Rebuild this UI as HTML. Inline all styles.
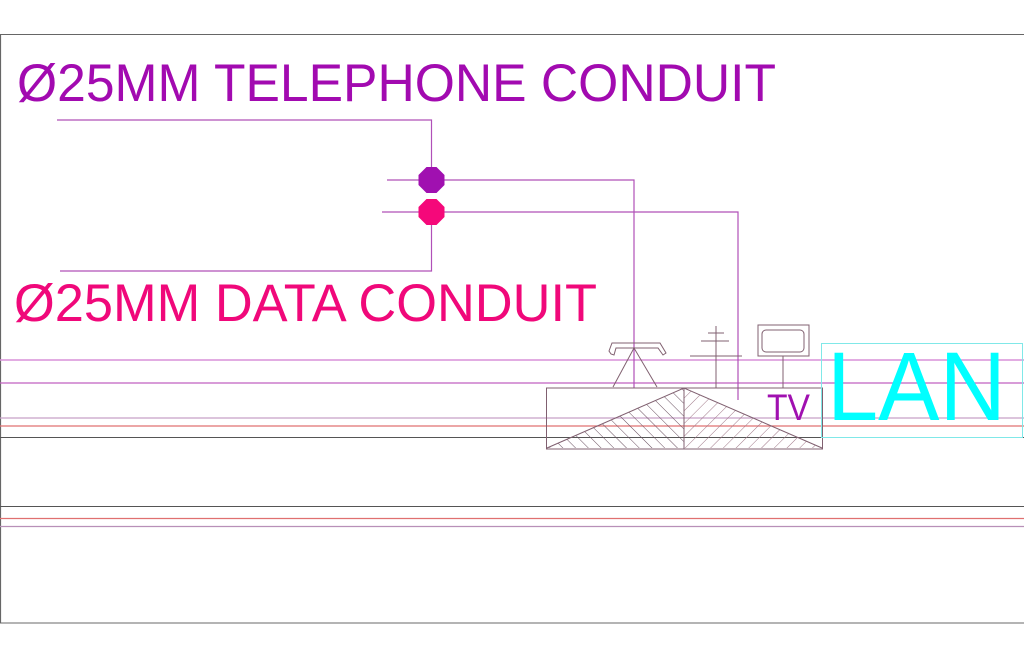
<!DOCTYPE html>
<html><head><meta charset="utf-8"><style>html,body{margin:0;padding:0;background:#fff}svg{display:block}</style></head>
<body>
<svg width="1024" height="656" viewBox="0 0 1024 656" xmlns="http://www.w3.org/2000/svg">
<defs>
<pattern id="hl" width="9" height="9" patternUnits="userSpaceOnUse" patternTransform="rotate(-45)"><line x1="0" y1="0" x2="0" y2="9" stroke="#6a5060" stroke-width="1"/></pattern>
<pattern id="hr" width="9" height="9" patternUnits="userSpaceOnUse" patternTransform="rotate(45)"><line x1="0" y1="0" x2="0" y2="9" stroke="#a07888" stroke-width="1"/></pattern>
</defs>
<rect width="1024" height="656" fill="#fff"/>
<line x1="0" y1="34.5" x2="1024" y2="34.5" stroke="#666" stroke-width="1"/>
<line x1="0" y1="623" x2="1024" y2="623" stroke="#888" stroke-width="1.2"/>
<line x1="0.5" y1="34" x2="0.5" y2="623" stroke="#666" stroke-width="1.2"/>
<line x1="0" y1="360" x2="1024" y2="360" stroke="#d890d8" stroke-width="1.4"/>
<line x1="0" y1="383" x2="1024" y2="383" stroke="#c060c0" stroke-width="1.2"/>
<line x1="0" y1="418" x2="1024" y2="418" stroke="#c8a0c8" stroke-width="1.2"/>
<line x1="0" y1="426" x2="1024" y2="426" stroke="#e07070" stroke-width="1.2"/>
<line x1="0" y1="437.5" x2="1024" y2="437.5" stroke="#555" stroke-width="1"/>
<line x1="0" y1="506.5" x2="1024" y2="506.5" stroke="#555" stroke-width="1"/>
<line x1="0" y1="518.5" x2="1024" y2="518.5" stroke="#e07070" stroke-width="1.2"/>
<line x1="0" y1="526.5" x2="1024" y2="526.5" stroke="#b890b8" stroke-width="1.2"/>
<text x="17" y="101" font-family="Liberation Sans, sans-serif" font-size="53" fill="#a20ab0" textLength="759" lengthAdjust="spacingAndGlyphs">Ø25MM TELEPHONE CONDUIT</text>
<text x="14" y="321" font-family="Liberation Sans, sans-serif" font-size="53" fill="#f0087a" textLength="583" lengthAdjust="spacingAndGlyphs">Ø25MM DATA CONDUIT</text>
<g fill="none" stroke="#b050b8" stroke-width="1.2">
<polyline points="57,120 431.5,120 431.5,180"/>
<polyline points="387,180 634,180 634,388"/>
<polyline points="382,212 738,212 738,400"/>
<polyline points="431.5,212 431.5,271 60,271"/>
</g>
<polygon points="426.5,167 436.5,167 444.5,175 444.5,185 436.5,193 426.5,193 418.5,185 418.5,175" fill="#a010b0"/>
<polygon points="426.5,199 436.5,199 444.5,207 444.5,217 436.5,225 426.5,225 418.5,217 418.5,207" fill="#f5087a"/>
<g fill="none" stroke="#806070" stroke-width="1">
<path d="M611,354 L609,351 L612,343 L660,343 L666,353 L663,355 L658,348 L616,348 L614,355 Z"/>
<polyline points="613,387 634,348 657,387"/>
<line x1="716" y1="326" x2="716" y2="388"/>
<line x1="708" y1="333" x2="724" y2="333"/>
<line x1="701" y1="341" x2="729" y2="341"/>
<line x1="690" y1="356" x2="742" y2="356"/>
<rect x="758" y="325" width="51" height="31"/>
<rect x="762" y="330" width="42" height="22" rx="4"/>
<line x1="783" y1="356" x2="783" y2="388"/>
</g>
<polygon points="547,448 684,388 684,448" fill="url(#hl)"/>
<polygon points="684,388 822,448 684,448" fill="url(#hr)"/>
<g fill="none" stroke="#806070" stroke-width="1">
<rect x="546.5" y="388" width="276" height="61"/>
<polyline points="547,448 684,388 822,448"/>
<line x1="684" y1="388" x2="684" y2="449"/>
</g>
<text x="767" y="420" font-family="Liberation Sans, sans-serif" font-size="37" fill="#a010b0" textLength="43" lengthAdjust="spacingAndGlyphs">TV</text>
<rect x="821.5" y="343.5" width="201" height="94" fill="none" stroke="#80e8e8" stroke-width="1"/>
<text x="827" y="420" font-family="Liberation Sans, sans-serif" font-size="97" fill="#00ffff" textLength="179" lengthAdjust="spacingAndGlyphs">LAN</text>
</svg>
</body></html>
